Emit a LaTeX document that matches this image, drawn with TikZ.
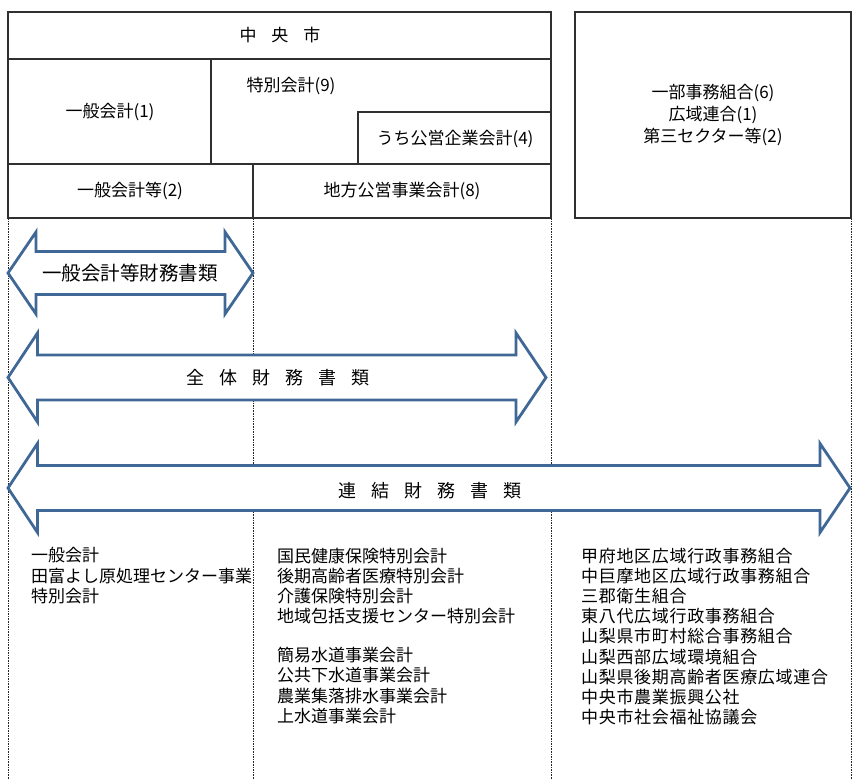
\documentclass[tikz,border=0pt]{standalone}
\usepackage{fontspec}
\setmainfont{Noto Sans CJK JP}
\definecolor{arrowblue}{HTML}{3F6896}
\definecolor{frame}{HTML}{303030}
\newcommand\gp{\hspace{15bp}}
\begin{document}
\begin{tikzpicture}[x=1bp,y=-1bp,
  framebox/.style={draw=frame,line width=1.3bp},
  dotline/.style={draw=black!85,line width=1bp,dash pattern=on 1.6bp off 1bp},
  bigarrow/.style={draw=arrowblue,line width=2.8bp,fill=white,line join=miter},
  lbl/.style={inner sep=0pt,font=\fontsize{17bp}{20bp}\selectfont},
  alabel/.style={inner sep=0pt,font=\fontsize{18bp}{20bp}\selectfont},
  listtext/.style={inner sep=0pt,anchor=north west,align=left,font=\fontsize{17bp}{20.2bp}\selectfont}]
\useasboundingbox (0,0) rectangle (862,780);
\fill[white] (0,0) rectangle (862,780);
% coordinates
\coordinate (d1t) at (8,218);   \coordinate (d1b) at (8,780);
\coordinate (d2t) at (253,218); \coordinate (d2b) at (253,780);
\coordinate (d3t) at (551,218); \coordinate (d3b) at (551,780);
\coordinate (d4t) at (851,218); \coordinate (d4b) at (851,780);
% dotted guide lines
\draw[dotline] (d1t) -- (d1b);
\draw[dotline] (d2t) -- (d2b);
\draw[dotline] (d3t) -- (d3b);
\draw[dotline] (d4t) -- (d4b);
% main frame
\draw[framebox] (8,12) rectangle (551,218);
\draw[framebox] (8,59) -- (551,59);
\draw[framebox] (8,164) -- (551,164);
\draw[framebox] (211,59) -- (211,164);
\draw[framebox] (358,164) -- (358,112) -- (551,112);
\draw[framebox] (253,164) -- (253,218);
% right frame
\draw[framebox] (575,12) rectangle (851,218);
% header texts
\node[lbl] (chuo) at (280,35.5) {中\gp 央\gp 市};
\node[lbl] (tokubetsu) at (291,86) {特別会計(9)};
\node[lbl] (ippan1) at (110,112) {一般会計(1)};
\node[lbl] (koei) at (455,139) {うち公営企業会計(4)};
\node[lbl] (ippan2) at (130,191) {一般会計等(2)};
\node[lbl] (chiho) at (402,191) {地方公営事業会計(8)};
\node[lbl,align=center,font=\fontsize{17bp}{22bp}\selectfont] (kumiai) at (713,115) {一部事務組合(6)\\広域連合(1)\\第三セクター等(2)};
% arrows
\draw[bigarrow] (8,273) -- (36,232) -- (36,251.5) -- (225,251.5) -- (225,232) -- (253,273)
  -- (225,314) -- (225,294.5) -- (36,294.5) -- (36,314) -- cycle;
\node[inner sep=0pt,font=\fontsize{19.5bp}{21bp}\selectfont] (a1) at (130,273) {一般会計等財務書類};
\draw[bigarrow] (8,377.5) -- (37.5,333) -- (37.5,355) -- (516,355) -- (516,333) -- (546,377.5)
  -- (516,422) -- (516,400) -- (37.5,400) -- (37.5,422) -- cycle;
\node[alabel] (a2) at (278,378) {全\gp 体\gp 財\gp 務\gp 書\gp 類};
\draw[bigarrow] (8,488) -- (37.5,443.5) -- (37.5,465.5) -- (820,465.5) -- (820,443.5) -- (850,488)
  -- (820,532.5) -- (820,510.5) -- (37.5,510.5) -- (37.5,532.5) -- cycle;
\node[alabel] (a3) at (430,491) {連\gp 結\gp 財\gp 務\gp 書\gp 類};
% lists
\node[listtext] (list1) at (31,547.5) {一般会計\\田富よし原処理センター事業\\特別会計};
\node[listtext] (list2) at (277,547.5) {国民健康保険特別会計\\後期高齢者医療特別会計\\介護保険特別会計\\地域包括支援センター特別会計\\[18.8bp]簡易水道事業会計\\公共下水道事業会計\\農業集落排水事業会計\\上水道事業会計};
\node[listtext,font=\fontsize{17bp}{20.2bp}\selectfont\addfontfeature{LetterSpace=4}] (list3) at (581,547.5) {甲府地区広域行政事務組合\\中巨摩地区広域行政事務組合\\三郡衛生組合\\東八代広域行政事務組合\\山梨県市町村総合事務組合\\山梨西部広域環境組合\\山梨県後期高齢者医療広域連合\\中央市農業振興公社\\中央市社会福祉協議会};
\end{tikzpicture}
\end{document}
